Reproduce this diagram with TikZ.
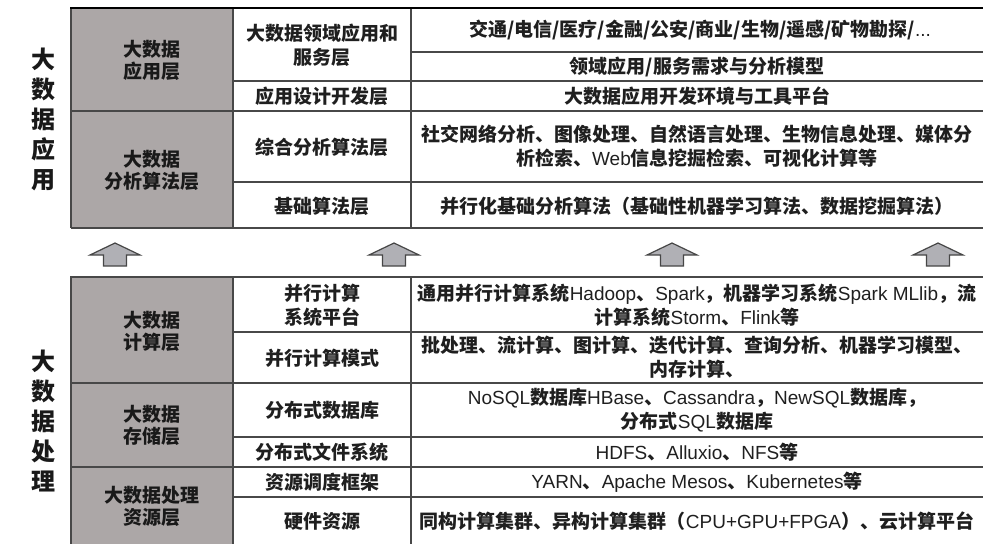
\documentclass[tikz,border=0pt]{standalone}
\usepackage{fontspec}
\setmainfont{Noto Sans CJK SC}
\newfontfamily\latfam{Liberation Sans}
\newcommand\lat{\mdseries\latfam}
\definecolor{cellgray}{RGB}{172,167,167}
\definecolor{linegray}{RGB}{72,72,72}
\definecolor{arrowfill}{RGB}{176,176,181}
\definecolor{arrowline}{RGB}{70,70,70}
\tikzset{
  rule/.style={draw=linegray, line width=1.5pt},
  toprule/.style={draw=black, line width=2.2pt},
  cell/.style={font=\bfseries\fontsize{19}{24}\selectfont, align=center, inner sep=0pt, text=black!88},
  graycell/.style={font=\bfseries\fontsize{19}{22}\selectfont, align=center, inner sep=0pt, text=black!90},
  sidelabel/.style={font=\bfseries\fontsize{24}{30}\selectfont, align=center, inner sep=0pt, text=black!90},
  uparrow/.style={fill=arrowfill, draw=arrowline, line width=1.2pt, line join=miter}
}
\begin{document}
\begin{tikzpicture}[x=1pt,y=-1pt]
\useasboundingbox (0,0) rectangle (994,544);
% gray column
\fill[cellgray] (71,8) rectangle (233,228);
\fill[cellgray] (71,277) rectangle (233,544);
% top table rules
\draw[rule] (71,111) -- (983,111);
\draw[rule] (71,228) -- (983,228);
\draw[rule] (233,81) -- (983,81);
\draw[rule] (411,52) -- (983,52);
\draw[rule] (233,182) -- (983,182);
\draw[rule] (71,8) -- (71,228);
\draw[rule] (233,8) -- (233,228);
\draw[rule] (411,8) -- (411,228);
\draw[toprule] (70,8) -- (983,8);
% bottom table rules
\draw[rule] (70,277) -- (983,277);
\draw[rule] (233,332) -- (983,332);
\draw[rule] (71,383) -- (983,383);
\draw[rule] (233,437) -- (983,437);
\draw[rule] (71,467) -- (983,467);
\draw[rule] (233,497) -- (983,497);
\draw[rule] (71,277) -- (71,544);
\draw[rule] (233,277) -- (233,544);
\draw[rule] (411,277) -- (411,544);
% arrows
\foreach \x in {115,394,672,938}{
  \draw[uparrow] (\x,243) -- (\x+25,255) -- (\x+11.5,255) -- (\x+11.5,266)
    -- (\x-11.5,266) -- (\x-11.5,255) -- (\x-25,255) -- cycle;
}
% side labels
\node[sidelabel] (s1) at (43,119) {大\\数\\据\\应\\用};
\node[sidelabel] (s2) at (43,421) {大\\数\\据\\处\\理};
% gray cells
\node[graycell] (g1) at (152,60) {大数据\\应用层};
\node[graycell] (g2) at (152,170) {大数据\\分析算法层};
\node[graycell] (g3) at (152,331) {大数据\\计算层};
\node[graycell] (g4) at (152,425) {大数据\\存储层};
\node[graycell] (g5) at (152,506) {大数据处理\\资源层};
% second column
\node[cell] (a1) at (322,45) {大数据领域应用和\\服务层};
\node[cell] (a2) at (322,96) {应用设计开发层};
\node[cell] (a3) at (322,147) {综合分析算法层};
\node[cell] (a4) at (322,206) {基础算法层};
\node[cell] (b1) at (322,305) {并行计算\\系统平台};
\node[cell] (b2) at (322,358) {并行计算模式};
\node[cell] (b3) at (322,410) {分布式数据库};
\node[cell] (b4) at (322,452) {分布式文件系统};
\node[cell] (b5) at (322,482) {资源调度框架};
\node[cell] (b6) at (322,521) {硬件资源};
% third column
\node[cell] (c1) at (700,30) {交通/电信/医疗/金融/公安/商业/生物/遥感/矿物勘探/{\lat...}};
\node[cell] (c2) at (697,67) {领域应用/服务需求与分析模型};
\node[cell] (c3) at (697,96) {大数据应用开发环境与工具平台};
\node[cell] (c4) at (697,146) {社交网络分析、图像处理、自然语言处理、生物信息处理、媒体分\\析检索、{\lat Web}信息挖掘检索、可视化计算等};
\node[cell] (c5) at (697,206) {并行化基础分析算法（基础性机器学习算法、数据挖掘算法）};
\node[cell] (d1) at (697,305) {通用并行计算系统{\lat Hadoop}、{\lat Spark}，机器学习系统{\lat Spark MLlib}，流\\计算系统{\lat Storm}、{\lat Flink}等};
\node[cell] (d2) at (697,357) {批处理、流计算、图计算、迭代计算、查询分析、机器学习模型、\\内存计算、};
\node[cell] (d3) at (697,410) {{\lat NoSQL}数据库{\lat HBase}、{\lat Cassandra}，{\lat NewSQL}数据库，\\分布式{\lat SQL}数据库};
\node[cell] (d4) at (697,452) {{\lat HDFS}、{\lat Alluxio}、{\lat NFS}等};
\node[cell] (d5) at (697,482) {{\lat YARN}、{\lat Apache Mesos}、{\lat Kubernetes}等};
\node[cell] (d6) at (697,521) {同构计算集群、异构计算集群（{\lat CPU+GPU+FPGA}）、云计算平台};
\end{tikzpicture}
\end{document}
